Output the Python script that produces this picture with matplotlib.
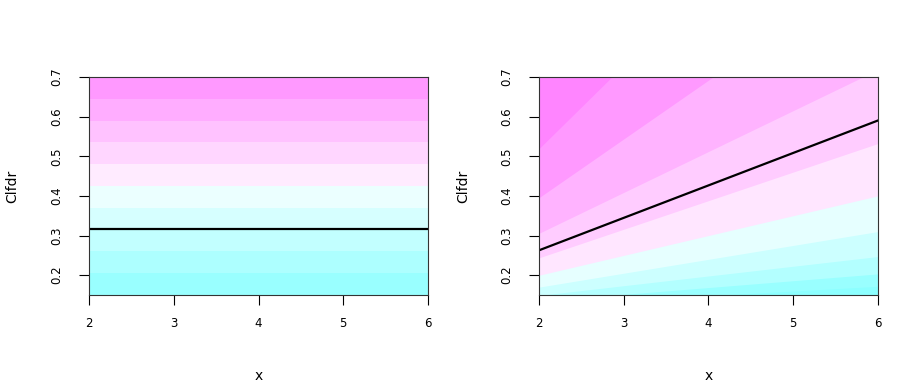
import numpy as np
import matplotlib.pyplot as plt

# left panel: horizontal bands (y boundaries) and the fitted level
left_edges = [0.15, 0.205, 0.26, 0.315, 0.37, 0.425, 0.48, 0.535, 0.59, 0.645, 0.7]
left_colors = ["#99FFFF", "#ADFFFF", "#C2FFFF", "#D6FFFF", "#EBFFFF",
               "#FFEBFF", "#FFD6FF", "#FFC2FF", "#FFADFF", "#FF99FF"]
left_line = 0.317

# right panel: bands are rays y = y0 + slope * x
ray_y0 = 0.1
right_slopes = [0.0085, 0.012, 0.0172, 0.0245, 0.035, 0.050, 0.072, 0.103, 0.148, 0.21]
right_colors = ["#80FFFF", "#8CFFFF", "#99FFFF", "#B3FFFF", "#CCFFFF", "#E6FFFF",
                "#FFE6FF", "#FFCCFF", "#FFB3FF", "#FF99FF", "#FF85FF"]
right_line_x = [2, 6]
right_line_y = [0.263, 0.59]

xticks = [2, 3, 4, 5, 6]
yticks = [0.2, 0.3, 0.4, 0.5, 0.6, 0.7]

fig = plt.figure(figsize=(9, 3.85), dpi=100)
ax1 = fig.add_axes([0.0989, 0.2338, 0.3767, 0.5662])
ax2 = fig.add_axes([0.5992, 0.2338, 0.376, 0.5662])

xs = np.array([2.0, 6.0])

# each band is filled from its lower edge upward, the next one paints over it (no seams)
for i in range(len(left_edges) - 1):
    ax1.fill_between(xs, left_edges[i], 1.0, color=left_colors[i], lw=0)
ax1.plot(xs, [left_line, left_line], color="black", lw=1.6)

lows = [-10.0] + right_slopes
for i in range(len(lows)):
    ax2.fill_between(xs, ray_y0 + lows[i] * xs, 1.0 + 0 * xs,
                     color=right_colors[i], lw=0)
ax2.plot(right_line_x, right_line_y, color="black", lw=1.6)

for ax in (ax1, ax2):
    ax.set_xlim(2, 6)
    ax.set_ylim(0.15, 0.7)
    ax.set_xticks(xticks)
    ax.set_xticklabels([str(t) for t in xticks])
    ax.set_yticks(yticks)
    ax.set_yticklabels([f"{t:.1f}" for t in yticks], rotation=90, va="center")
    ax.tick_params(axis="both", direction="out", length=7.5, width=0.8, labelsize=8.5)
    ax.tick_params(axis="x", pad=8)
    ax.tick_params(axis="y", pad=11)
    for sp in ax.spines.values():
        sp.set_linewidth(0.8)
        sp.set_color("#333333")
    ax.set_xlabel("x", fontsize=10, va="center")
    ax.set_ylabel("Clfdr", fontsize=10)
    ax.xaxis.set_label_coords(0.5, -0.37)
    ax.yaxis.set_label_coords(-0.205, 0.5)

plt.savefig("out.png", dpi=100)
